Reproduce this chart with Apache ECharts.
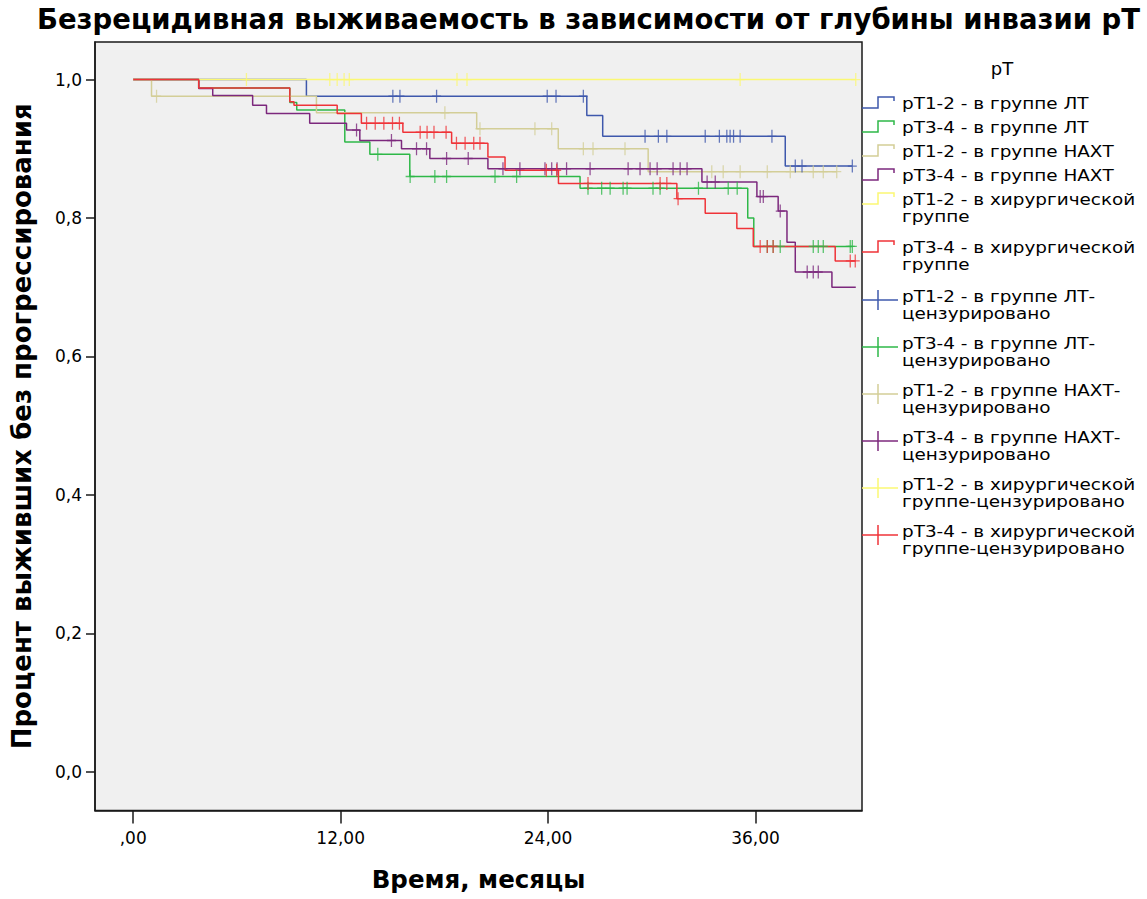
<!DOCTYPE html>
<html>
<head>
<meta charset="utf-8">
<script src="https://cdn.jsdelivr.net/npm/echarts@6.0.0/dist/echarts.min.js"></script>
<style>
  html, body { margin: 0; padding: 0; background: #ffffff; }
  #chart { width: 1147px; height: 899px; }
</style>
</head>
<body>
<div id="chart"></div>
<script>
// Kaplan–Meier: relapse-free survival by depth of invasion (pT) and treatment group.
// Each group: event times (months), survival after each step, and censoring times.

const groupNames = [
  'pT1-2 - в группе ЛТ',
  'pT3-4 - в группе ЛТ',
  'pT1-2 - в группе НАХТ',
  'pT3-4 - в группе НАХТ',
  'pT1-2 - в хирургической группе',
  'pT3-4 - в хирургической группе'
];

// pT1-2, ЛТ
const t12LT_time = [0, 10.02, 26.24, 27.16, 37.72, 41.6];
const t12LT_surv = [1, 0.976, 0.948, 0.918, 0.875, 0.875];
const t12LT_cens = [15.02, 15.43, 17.55, 23.95, 24.46, 26.04, 29.61, 30.38, 30.87, 33.09, 33.91,
  34.34, 34.53, 34.73, 35.11, 36.95, 38.30, 38.69, 41.6];

// pT3-4, ЛТ
const t34LT_time = [0, 3.79, 9.06, 9.46, 12.24, 13.69, 16.0, 25.85, 35.55, 35.9, 41.6];
const t34LT_surv = [1, 0.988, 0.967, 0.956, 0.910, 0.892, 0.860, 0.843, 0.800, 0.759, 0.759];
const t34LT_cens = [14.15, 16.02, 17.45, 18.13, 20.93, 22.18, 26.31, 27.10, 27.59, 28.34, 28.57,
  30.07, 30.48, 32.70, 34.42, 34.94, 36.68, 37.02, 37.43, 39.34, 39.63, 39.92, 41.48, 41.6];

// pT1-2, НАХТ
const t12NACT_time = [0, 1.06, 10.6, 19.87, 24.59, 29.79, 40.7];
const t12NACT_surv = [1, 0.976, 0.952, 0.929, 0.900, 0.867, 0.867];
const t12NACT_cens = [1.35, 18.03, 20.06, 23.24, 24.21, 26.04, 26.60, 28.45, 33.47, 34.13, 35.11,
  36.68, 38.01, 39.34, 39.92, 40.7];

// pT3-4, НАХТ
const t34NACT_time = [0, 3.79, 4.60, 6.91, 7.71, 10.21, 12.34, 13.11, 15.52, 17.16, 20.52, 32.90,
  36.08, 37.31, 37.82, 38.30, 40.42, 41.8];
const t34NACT_surv = [1, 0.987, 0.977, 0.963, 0.951, 0.937, 0.927, 0.912, 0.900, 0.886, 0.871, 0.852,
  0.831, 0.810, 0.765, 0.722, 0.700, 0.700];
const t34NACT_cens = [12.92, 14.94, 16.39, 16.97, 18.13, 19.38, 21.39, 22.37, 23.82, 24.21, 24.52,
  25.07, 26.43, 28.63, 29.32, 29.90, 30.31, 31.23, 31.64, 32.04, 33.20, 33.67, 36.27, 36.45, 37.43,
  38.99, 39.34, 39.63];

// pT1-2, хирургическая группа
const t12Surg_time = [0, 41.8];
const t12Surg_surv = [1, 1];
const t12Surg_cens = [6.55, 11.37, 11.8, 12.2, 12.5, 18.73, 19.31, 35.11, 41.8];

// pT3-4, хирургическая группа
const t34Surg_time = [0, 3.79, 9.06, 9.3, 11.8, 13.2, 15.6, 18.42, 20.52, 21.51, 24.6, 31.45, 33.09,
  34.92, 35.87, 40.61, 41.8];
const t34Surg_surv = [1, 0.988, 0.968, 0.963, 0.951, 0.937, 0.924, 0.908, 0.888, 0.869, 0.850, 0.828,
  0.807, 0.785, 0.759, 0.738, 0.738];
const t34Surg_cens = [13.5, 14.0, 14.5, 15.0, 15.4, 16.6, 17.0, 17.4, 18.1, 18.7, 19.2, 19.7, 20.06,
  23.9, 24.5, 26.31, 30.48, 30.87, 31.52, 36.27, 36.68, 37.02, 41.48, 41.77];

// Axis ticks and labels
const xTicks = [0, 12, 24, 36];
const yTicks = [0, 0.2, 0.4, 0.6, 0.8, 1.0];

const legendTitle = 'pT';
const legendLabels = [
  'pT1-2 - в группе ЛТ',
  'pT3-4 - в группе ЛТ',
  'pT1-2 - в группе НАХТ',
  'pT3-4 - в группе НАХТ',
  'pT1-2 - в хирургической\nгруппе',
  'pT3-4 - в хирургической\nгруппе',
  'pT1-2 - в группе ЛТ-\nцензурировано',
  'pT3-4 - в группе ЛТ-\nцензурировано',
  'pT1-2 - в группе НАХТ-\nцензурировано',
  'pT3-4 - в группе НАХТ-\nцензурировано',
  'pT1-2 - в хирургической\nгруппе-цензурировано',
  'pT3-4 - в хирургической\nгруппе-цензурировано'
];

// ---------------------------------------------------------------------------

const groupColors = ['#3E58AC', '#2EB848', '#D3CE97', '#7C287D', '#FBF873', '#EF3338'];

const curves = [
  [t12LT_time, t12LT_surv, t12LT_cens],
  [t34LT_time, t34LT_surv, t34LT_cens],
  [t12NACT_time, t12NACT_surv, t12NACT_cens],
  [t34NACT_time, t34NACT_surv, t34NACT_cens],
  [t12Surg_time, t12Surg_surv, t12Surg_cens],
  [t34Surg_time, t34Surg_surv, t34Surg_cens]
];

// survival level of a step curve at time t (censor marks sit on the curve)
function levelAt(times, surv, t) {
  let s = surv[0];
  for (let i = 0; i < times.length; i++) {
    if (times[i] <= t) s = surv[i];
  }
  return s;
}

const CROSS = 'path://M4.3,0H5.7V14H4.3Z M0,6.3H10V7.7H0Z';

const series = [];
curves.forEach(function (c, g) {
  series.push({
    type: 'line',
    name: groupNames[g],
    step: 'end',
    data: c[0].map(function (t, i) { return [t, c[1][i]]; }),
    showSymbol: false,
    symbol: 'none',
    lineStyle: { color: groupColors[g], width: 1.5 },
    itemStyle: { color: groupColors[g] },
    silent: true,
    z: 2
  });
});
curves.forEach(function (c, g) {
  series.push({
    type: 'scatter',
    name: groupNames[g] + '-цензурировано',
    data: c[2].map(function (t) { return [t, levelAt(c[0], c[1], t)]; }),
    symbol: CROSS,
    symbolSize: [9, 13],
    itemStyle: { color: groupColors[g] },
    silent: true,
    z: 3
  });
});

// legend drawn SPSS-style: step glyphs for curves, tick glyphs for censored marks
const LEG_X = 862;
const LEG_TEXT_X = 902;
const LEG_LH = 17;
const legendRowY = [103, 127, 151, 175, 199, 247, 296, 343, 390, 437, 484, 531];
const legendFont = '16px "DejaVu Sans"';

const graphic = [{
  type: 'text', x: 1002, y: 68,
  style: { text: legendTitle, font: '18px "DejaVu Sans"', fill: '#000', align: 'center', verticalAlign: 'middle' }
}];
legendLabels.forEach(function (label, i) {
  const y = legendRowY[i];
  const color = groupColors[i % 6];
  if (i < 6) {
    graphic.push({
      type: 'polyline',
      shape: { points: [[LEG_X, y + 5], [878, y + 5], [878, y - 6], [894, y - 6], [894, y - 2]] },
      style: { stroke: color, lineWidth: 1.5, fill: null }
    });
  } else {
    graphic.push({
      type: 'line', shape: { x1: LEG_X, y1: y + 4, x2: 898, y2: y + 4 },
      style: { stroke: color, lineWidth: 1.5 }
    });
    graphic.push({
      type: 'line', shape: { x1: 878, y1: y - 6, x2: 878, y2: y + 14 },
      style: { stroke: color, lineWidth: 1.5 }
    });
  }
  graphic.push({
    type: 'text', x: LEG_TEXT_X, y: y - LEG_LH / 2, scaleX: 1.15,
    style: { text: label, font: legendFont, fill: '#000', lineHeight: LEG_LH, verticalAlign: 'top' }
  });
});

const chart = echarts.init(document.getElementById('chart'), null, { renderer: 'svg' });

chart.setOption({
  animation: false,
  backgroundColor: '#ffffff',
  title: {
    text: 'Безрецидивная выживаемость в зависимости от глубины инвазии pT',
    left: 37,
    top: 5,
    padding: 0,
    textStyle: { fontFamily: 'DejaVu Sans', fontWeight: 'bold', fontSize: 27.5, color: '#000' }
  },
  grid: {
    left: 95, right: 285, top: 42, bottom: 88.5,
    show: true,
    backgroundColor: '#F0F0F0',
    borderColor: '#1a1a1a',
    borderWidth: 1.5,
    outerBoundsMode: 'none'
  },
  xAxis: {
    type: 'value',
    min: -2.21,
    max: 42.16,
    axisLine: { show: true, onZero: false, lineStyle: { color: '#1a1a1a', width: 1.5 } },
    axisTick: { show: true, customValues: xTicks, length: 13, lineStyle: { color: '#1a1a1a', width: 1.5 } },
    axisLabel: {
      customValues: xTicks,
      margin: 19,
      fontFamily: 'DejaVu Sans',
      fontSize: 17,
      color: '#000',
      formatter: function (v) { return v === 0 ? ',00' : v.toFixed(2).replace('.', ','); }
    },
    splitLine: { show: false },
    name: 'Время, месяцы',
    nameLocation: 'middle',
    nameGap: 56,
    nameTextStyle: { fontFamily: 'DejaVu Sans', fontWeight: 'bold', fontSize: 24.5, color: '#000' }
  },
  yAxis: {
    type: 'value',
    min: -0.056,
    max: 1.0543,
    axisLine: { show: true, onZero: false, lineStyle: { color: '#1a1a1a', width: 1.5 } },
    axisTick: { show: true, customValues: yTicks, length: 9, lineStyle: { color: '#1a1a1a', width: 1.5 } },
    axisLabel: {
      customValues: yTicks,
      margin: 13,
      fontFamily: 'DejaVu Sans',
      fontSize: 17,
      color: '#000',
      formatter: function (v) { return v.toFixed(1).replace('.', ','); }
    },
    splitLine: { show: false },
    name: 'Процент выживших без прогрессирования',
    nameLocation: 'middle',
    nameGap: 60,
    nameTextStyle: { fontFamily: 'DejaVu Sans', fontWeight: 'bold', fontSize: 26, color: '#000' }
  },
  graphic: graphic,
  series: series
});
</script>
</body>
</html>
